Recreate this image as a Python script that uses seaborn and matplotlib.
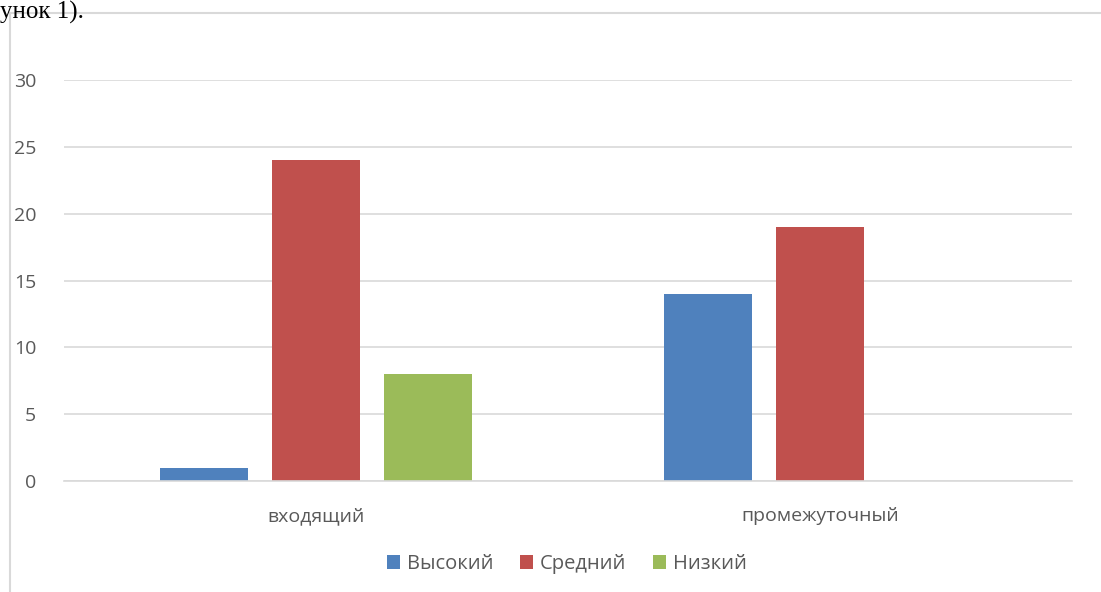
import pandas as pd
import matplotlib.pyplot as plt
import seaborn as sns
from matplotlib.patches import Rectangle, Patch

# Data
categories = ['входящий', 'промежуточный']
levels = ['Высокий', 'Средний', 'Низкий']
high = [1, 14]
medium = [24, 19]
low = [8, 0]
colors = ['#4f81bd', '#c0504d', '#9bbb59']

df = pd.DataFrame({
    'stage': categories * 3,
    'level': [levels[0]] * 2 + [levels[1]] * 2 + [levels[2]] * 2,
    'value': high + medium + low,
})

sns.set_style('white')
plt.rcParams['font.family'] = ['Open Sans', 'DejaVu Sans']
text_color = '#595959'

fig = plt.figure(figsize=(11.01, 5.92), dpi=100)

# Chart frame
fig.patches.append(Rectangle((10 / 1101, -0.1), 1.2, (592 - 13) / 592 + 0.1,
                             transform=fig.transFigure, fill=False,
                             edgecolor='#d9d9d9', linewidth=1.5))
# Document text above the chart
fig.text(0.0, 0.999, 'унок 1).', family='Liberation Serif', fontsize=18,
         va='top', ha='left', color='black')

ax = fig.add_axes([64 / 1101, 111 / 592, (1072 - 64) / 1101, (481 - 80) / 592])
sns.barplot(data=df, x='stage', y='value', hue='level', palette=colors,
            width=0.667, gap=0.214, ax=ax, legend=False, saturation=1,
            linewidth=0, edgecolor='none')

ax.set_ylim(0, 30)
ax.set_xlim(-0.5, 1.5)
ax.set_yticks([0, 5, 10, 15, 20, 25, 30])
ax.yaxis.grid(True, color='#d9d9d9', linewidth=1.2)
ax.set_axisbelow(True)
for s in ['top', 'right', 'left']:
    ax.spines[s].set_visible(False)
ax.spines['bottom'].set_color('#d9d9d9')
ax.spines['bottom'].set_linewidth(1.2)
ax.set_xlabel('')
ax.set_ylabel('')
ax.tick_params(axis='both', length=0, labelsize=14, colors=text_color)
ax.tick_params(axis='y', pad=20)
ax.tick_params(axis='x', pad=19)

handles = [Patch(facecolor=c, edgecolor='none') for c in colors]
fig.legend(handles, levels, loc='center', bbox_to_anchor=(567 / 1101, 1 - 564 / 592),
           ncol=3, frameon=False, fontsize=14.5, handlelength=0.65, handleheight=0.65,
           handletextpad=0.35, columnspacing=1.3, labelcolor=text_color)

fig.savefig('out.png', dpi=100)
